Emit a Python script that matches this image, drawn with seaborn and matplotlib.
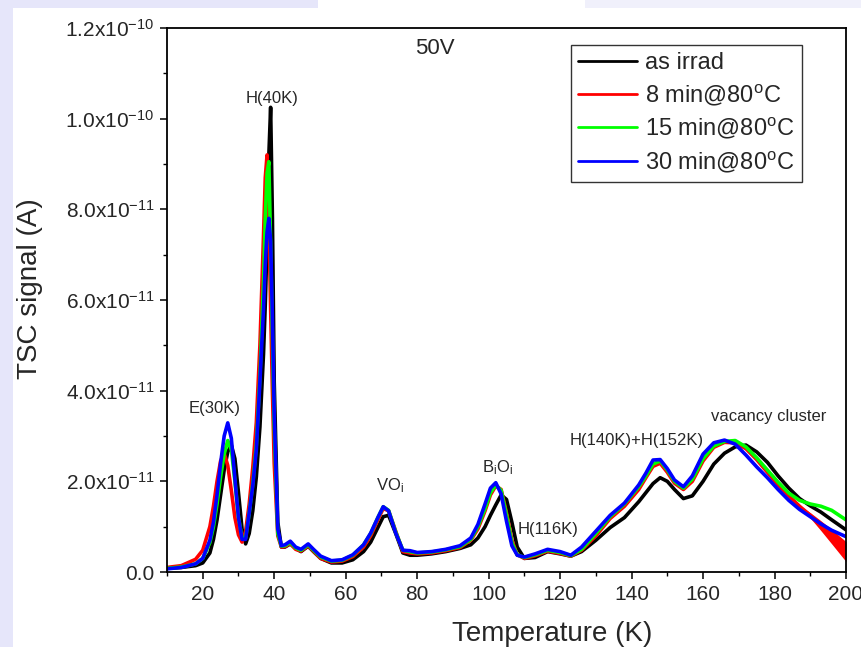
import numpy as np
import pandas as pd
import matplotlib
matplotlib.use("Agg")
import matplotlib.pyplot as plt
from matplotlib.patches import Rectangle
from matplotlib.ticker import MultipleLocator, FuncFormatter
import seaborn as sns

# ---------------- data (signal in units of 1e-11 A) ----------------
temperature = [10, 14, 18, 20, 22, 23, 24, 25, 26, 27, 28, 29, 30, 31, 32, 33, 34, 35, 36, 37,
               37.5, 38, 38.5, 39, 39.5, 40, 41, 42, 43, 44.5, 46, 47.5, 49.5, 51, 53, 56, 59, 62, 65, 67,
               69, 70.5, 72, 74, 76, 78, 80, 84, 88, 92, 95, 97, 99, 100.5, 102, 103.5, 105, 106.5, 108, 110,
               113, 116.5, 120, 123, 126, 130, 134, 138, 142, 144, 146, 148, 150, 152, 154.5, 157, 160, 163, 166, 169,
               172, 175, 178, 181, 184, 187, 190, 193, 196, 200]

as_irrad = [0.08, 0.10, 0.14, 0.20, 0.42, 0.72, 1.15, 1.70, 2.25, 2.65,
            2.80, 2.50, 1.75, 0.95, 0.62, 0.85, 1.35, 2.10, 3.20, 4.80,
            5.90, 7.30, 9.20, 10.25, 7.80, 4.20, 1.10, 0.55, 0.55, 0.62,
            0.52, 0.45, 0.57, 0.45, 0.30, 0.20, 0.20, 0.27, 0.45, 0.66,
            0.98, 1.22, 1.25, 0.85, 0.42, 0.37, 0.37, 0.40, 0.45, 0.52,
            0.60, 0.75, 1.00, 1.25, 1.48, 1.70, 1.60, 1.10, 0.55, 0.30,
            0.32, 0.45, 0.40, 0.35, 0.45, 0.70, 0.98, 1.20, 1.55, 1.75,
            1.95, 2.08, 2.00, 1.82, 1.62, 1.68, 2.00, 2.38, 2.62, 2.76,
            2.80, 2.65, 2.42, 2.12, 1.85, 1.62, 1.46, 1.32, 1.15, 0.93]

min8 = [0.10, 0.14, 0.28, 0.48, 1.00, 1.45, 2.00, 2.45, 2.62, 2.35,
        1.80, 1.20, 0.82, 0.66, 0.90, 1.50, 2.30, 3.30, 5.00, 7.40,
        8.70, 9.20, 7.80, 5.80, 4.00, 2.40, 0.80, 0.55, 0.56, 0.63,
        0.50, 0.46, 0.58, 0.46, 0.30, 0.22, 0.24, 0.34, 0.55, 0.80,
        1.15, 1.40, 1.35, 0.90, 0.45, 0.42, 0.40, 0.42, 0.47, 0.54,
        0.70, 0.95, 1.35, 1.70, 1.90, 1.82, 1.30, 0.70, 0.38, 0.30,
        0.36, 0.46, 0.41, 0.35, 0.48, 0.80, 1.18, 1.45, 1.82, 2.08,
        2.33, 2.40, 2.20, 1.96, 1.82, 2.00, 2.45, 2.75, 2.86, 2.85,
        2.72, 2.48, 2.20, 1.92, 1.68, 1.45, 1.25, 1.02, 0.78, 0.45]

min15 = [0.08, 0.11, 0.18, 0.30, 0.65, 1.00, 1.50, 2.10, 2.60, 2.90,
         2.70, 2.00, 1.20, 0.75, 0.75, 1.30, 1.95, 2.80, 4.30, 6.40,
         7.80, 8.80, 9.05, 7.20, 5.20, 3.20, 0.85, 0.57, 0.58, 0.65,
         0.53, 0.48, 0.60, 0.48, 0.33, 0.24, 0.26, 0.37, 0.60, 0.85,
         1.20, 1.44, 1.36, 0.88, 0.48, 0.45, 0.42, 0.44, 0.49, 0.56,
         0.72, 1.00, 1.40, 1.75, 1.92, 1.80, 1.25, 0.65, 0.38, 0.32,
         0.38, 0.48, 0.43, 0.36, 0.50, 0.85, 1.22, 1.50, 1.88, 2.12,
         2.38, 2.45, 2.25, 2.00, 1.85, 2.05, 2.50, 2.78, 2.88, 2.90,
         2.76, 2.52, 2.25, 1.98, 1.74, 1.58, 1.50, 1.45, 1.36, 1.15]

min30 = [0.07, 0.10, 0.18, 0.30, 0.70, 1.10, 1.70, 2.40, 3.00, 3.29,
         2.95, 2.05, 1.20, 0.72, 0.72, 1.30, 1.90, 2.70, 4.20, 5.80,
         6.80, 7.50, 7.80, 7.30, 5.60, 3.50, 0.95, 0.58, 0.60, 0.68,
         0.55, 0.50, 0.62, 0.50, 0.35, 0.25, 0.27, 0.38, 0.60, 0.86,
         1.20, 1.44, 1.35, 0.86, 0.48, 0.47, 0.43, 0.45, 0.50, 0.58,
         0.75, 1.05, 1.50, 1.85, 1.97, 1.72, 1.12, 0.58, 0.37, 0.33,
         0.40, 0.50, 0.45, 0.37, 0.55, 0.90, 1.25, 1.52, 1.92, 2.18,
         2.47, 2.48, 2.28, 2.03, 1.88, 2.12, 2.60, 2.85, 2.91, 2.82,
         2.58, 2.32, 2.08, 1.82, 1.58, 1.38, 1.22, 1.06, 0.92, 0.78]

# noisy band of the 8 min curve at the high-temperature end (half width, 1e-11 A)
red_tail_T = [184, 187, 190, 193, 196, 200]
red_tail_spread = [0.0, 0.02, 0.06, 0.11, 0.16, 0.22]

series_names = ["as irrad", "8 min@80$^\\mathregular{o}$C", "15 min@80$^\\mathregular{o}$C",
                "30 min@80$^\\mathregular{o}$C"]
series_values = [as_irrad, min8, min15, min30]
series_colors = ["#000000", "#ff0000", "#00ff00", "#0000ff"]

annotations = [("50V", 85, 11.55, 16), ("H(40K)", 39.4, 10.45, 12), ("E(30K)", 23.2, 3.6, 12),
               ("VO$_\\mathregular{i}$", 72.5, 1.9, 12), ("B$_\\mathregular{i}$O$_\\mathregular{i}$", 102.4, 2.3, 12),
               ("H(116K)", 116.7, 0.93, 12), ("H(140K)+H(152K)", 141.5, 2.9, 12),
               ("vacancy cluster", 178.5, 3.44, 12)]

# ---------------- style ----------------
sns.set_style("ticks")
plt.rcParams["font.family"] = ["Liberation Sans", "DejaVu Sans"]
plt.rcParams["mathtext.fontset"] = "custom"
plt.rcParams["mathtext.rm"] = "Liberation Sans"
plt.rcParams["mathtext.it"] = "Liberation Sans"
plt.rcParams["mathtext.bf"] = "Liberation Sans:bold"
plt.rcParams["mathtext.default"] = "regular"

fig = plt.figure(figsize=(8.61, 6.47), dpi=100)
fig.patch.set_facecolor("white")
# light lavender frame strips of the original screenshot
fig.patches.append(Rectangle((0, 0), 13 / 861, 1, transform=fig.transFigure,
                             facecolor="#e6e6fa", edgecolor="none", zorder=0))
fig.patches.append(Rectangle((0, 1 - 8 / 647), 318 / 861, 8 / 647, transform=fig.transFigure,
                             facecolor="#e6e6fa", edgecolor="none", zorder=0))
fig.patches.append(Rectangle((585 / 861, 1 - 8 / 647), 276 / 861, 8 / 647, transform=fig.transFigure,
                             facecolor="#f0f0fb", edgecolor="none", zorder=0))

ax = fig.add_axes([167 / 861, 1 - 572 / 647, (846 - 167) / 861, (572 - 28) / 647])

T = np.array(temperature)
for name, vals, col in zip(series_names, series_values, series_colors):
    sns.lineplot(x=T, y=np.array(vals) * 1e-11, color=col, linewidth=2.6, label=name, ax=ax,
                 solid_joinstyle="round", solid_capstyle="round")

# red noisy tail band
idx = [temperature.index(t) for t in red_tail_T]
center = np.array([min8[i] for i in idx])
spread = np.array(red_tail_spread)
ax.fill_between(red_tail_T, (center - spread) * 1e-11, (center + spread) * 1e-11,
                color="#ff0000", linewidth=0, zorder=1.5)

ax.set_xlim(10, 200)
ax.set_ylim(0, 1.2e-10)
ax.xaxis.set_major_locator(MultipleLocator(20))
ax.xaxis.set_minor_locator(MultipleLocator(10))
ax.yaxis.set_major_locator(MultipleLocator(2e-11))
ax.yaxis.set_minor_locator(MultipleLocator(1e-11))


def yfmt(v, pos):
    if abs(v) < 1e-15:
        return "0.0"
    e = int(np.floor(np.log10(abs(v)) + 1e-9))
    m = v / 10 ** e
    return "%.1fx10$^{%d}$" % (m, e)


ax.yaxis.set_major_formatter(FuncFormatter(yfmt))
ax.tick_params(axis="both", which="major", direction="out", length=5, width=1.1,
               labelsize=15, color="black", pad=4)
ax.tick_params(axis="both", which="minor", direction="out", length=3, width=1.0, color="black")
for s in ax.spines.values():
    s.set_linewidth(1.3)
    s.set_color("black")
    s.set_visible(True)

ax.set_xlabel("Temperature (K)", fontsize=20)
ax.set_ylabel("TSC signal (A)", fontsize=20)
ax.xaxis.set_label_coords(0.567, -0.09)
ax.yaxis.set_label_coords(-0.183, 0.52)

for txt, x, y, fs in annotations:
    ax.text(x, y * 1e-11, txt, fontsize=fs, ha="center", va="center")

leg = ax.legend(loc="upper right", bbox_to_anchor=(0.935, 0.969), borderaxespad=0,
                fontsize=17, frameon=True, fancybox=False, shadow=False,
                handlelength=2.5, handletextpad=0.35, labelspacing=0.35, borderpad=0.3)
leg.get_frame().set_edgecolor("black")
leg.get_frame().set_linewidth(1.0)
for line in leg.get_lines():
    line.set_linewidth(2.0)

fig.savefig("out.png", dpi=100)
